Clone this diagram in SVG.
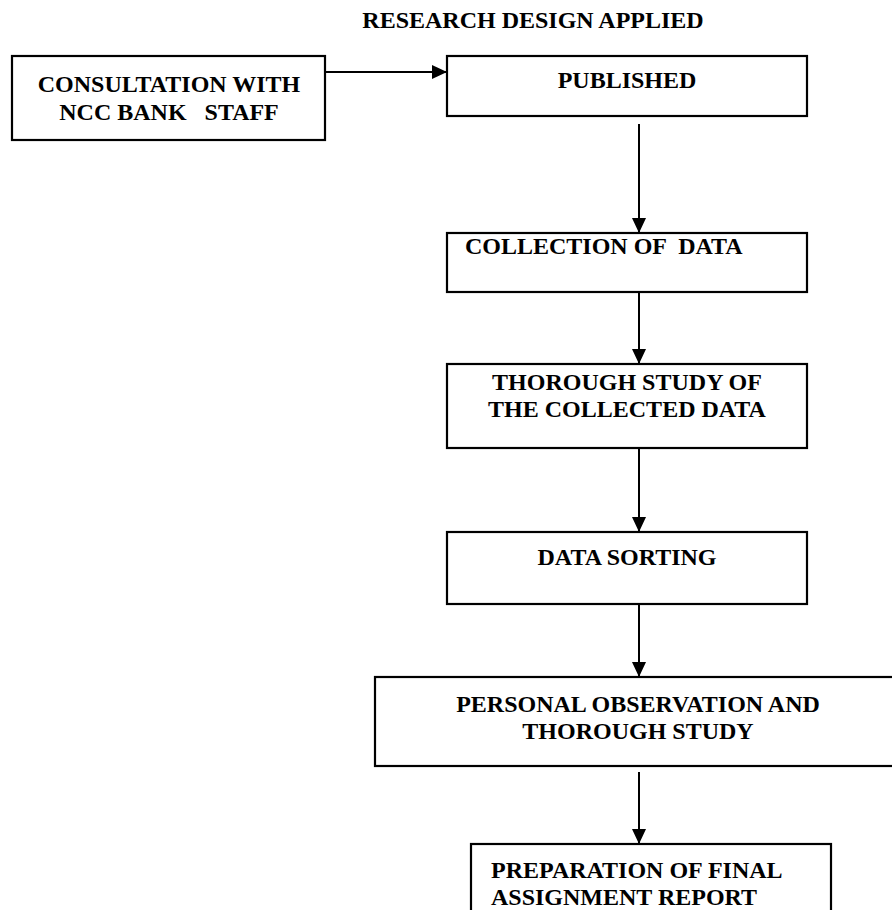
<svg xmlns="http://www.w3.org/2000/svg" width="892" height="910" viewBox="0 0 892 910">
<defs>
<marker id="ah" markerWidth="15" markerHeight="14" refX="15" refY="7" orient="auto" markerUnits="userSpaceOnUse">
<path d="M0,0 L15,7 L0,14 Z" fill="#000"/>
</marker>
<style>
.box{fill:#fff;stroke:#000;stroke-width:2.2}
.t{font-family:"Liberation Serif","Times New Roman",serif;font-weight:bold;font-size:24px;fill:#000}
.c{text-anchor:middle}
.ln{stroke:#000;stroke-width:2;fill:none}
</style>
</defs>
<rect width="892" height="910" fill="#fff"/>
<text class="t c" x="533" y="28">RESEARCH DESIGN APPLIED</text>
<g id="connectors">
<line class="ln" x1="325" y1="72" x2="447" y2="72" marker-end="url(#ah)"/>
<line class="ln" x1="639" y1="124" x2="639" y2="233" marker-end="url(#ah)"/>
<line class="ln" x1="639" y1="292" x2="639" y2="364" marker-end="url(#ah)"/>
<line class="ln" x1="639" y1="448" x2="639" y2="532" marker-end="url(#ah)"/>
<line class="ln" x1="639" y1="604" x2="639" y2="677" marker-end="url(#ah)"/>
<line class="ln" x1="639" y1="772" x2="639" y2="844" marker-end="url(#ah)"/>
</g>
<g id="consultation">
<rect class="box" x="12" y="56" width="313" height="84"/>
<text class="t c" x="169" y="92">CONSULTATION WITH</text>
<text class="t c" x="169" y="120" xml:space="preserve">NCC BANK   STAFF</text>
</g>
<g id="published">
<rect class="box" x="447" y="56" width="360" height="60"/>
<text class="t c" x="627" y="88">PUBLISHED</text>
</g>
<g id="collection">
<rect class="box" x="447" y="233" width="360" height="59"/>
<text class="t" x="465" y="254" xml:space="preserve">COLLECTION OF  DATA</text>
</g>
<g id="thorough">
<rect class="box" x="447" y="364" width="360" height="84"/>
<text class="t c" x="627" y="390">THOROUGH STUDY OF</text>
<text class="t c" x="627" y="417">THE COLLECTED DATA</text>
</g>
<g id="sorting">
<rect class="box" x="447" y="532" width="360" height="72"/>
<text class="t c" x="627" y="565">DATA SORTING</text>
</g>
<g id="personal">
<rect class="box" x="375" y="677" width="530" height="89"/>
<text class="t c" x="638" y="712">PERSONAL OBSERVATION AND</text>
<text class="t c" x="638" y="739">THOROUGH STUDY</text>
</g>
<g id="preparation">
<rect class="box" x="471" y="844" width="360" height="80"/>
<text class="t" x="491" y="878">PREPARATION OF FINAL</text>
<text class="t" x="491" y="905">ASSIGNMENT REPORT</text>
</g>
</svg>
